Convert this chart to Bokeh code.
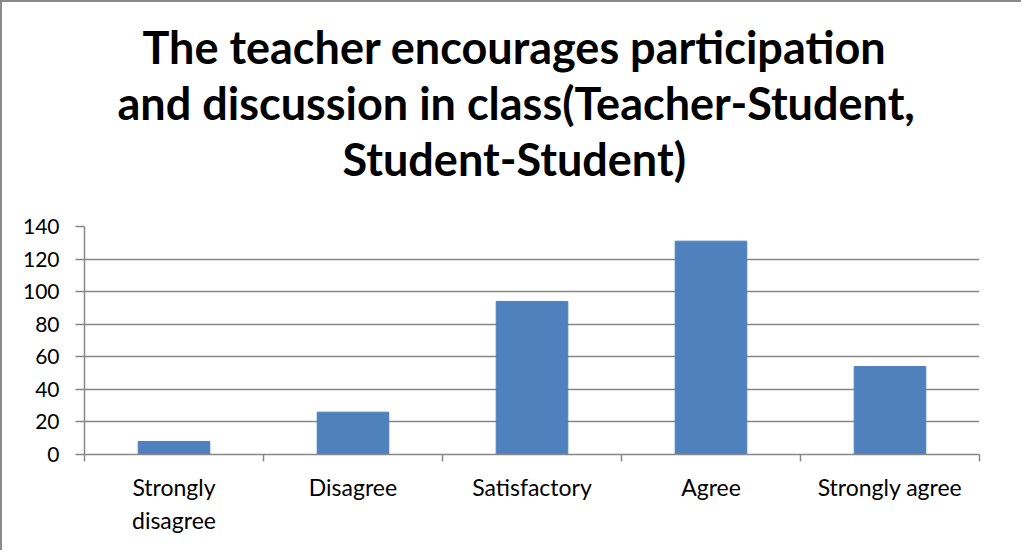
from bokeh.plotting import figure
from bokeh.models import FixedTicker, Range1d, ColumnDataSource, Title
from bokeh.embed import file_html
from bokeh.resources import INLINE
import numpy as np

categories = ["Strongly\ndisagree", "Disagree", "Satisfactory", "Agree", "Strongly agree"]
counts = [8, 26, 94, 131, 54]
y_ticks = [0, 20, 40, 60, 80, 100, 120, 140]
title_lines = ["The teacher encourages participation",
               "and discussion in class(Teacher-Student,",
               "Student-Student)"]

FONT = "Lato"
GRID = "#878787"

n = len(categories)
centers = np.arange(n) + 0.5
src = ColumnDataSource(dict(x=centers, top=counts))

p = figure(width=1021, height=550, output_backend="svg", toolbar_location=None,
           x_range=Range1d(0, n), y_range=Range1d(0, 140),
           min_border_left=82, min_border_right=44, min_border_top=224, min_border_bottom=98)

p.vbar(x="x", top="top", width=0.4, source=src, fill_color="#4F81BD", line_color="#4F81BD")

# spacer between the plot frame and the title block
p.add_layout(Title(text=" ", text_font_size="1px", standoff=38), "above")

# title: one Title per line, innermost (last line) first.
title_offsets = [58, 33, 258]   # px from frame left, per line (layout only)
for line, off in reversed(list(zip(title_lines, title_offsets))):
    t = Title(text=line, align="left", offset=off, text_font=FONT, text_font_style="bold",
              text_font_size="45px", text_color="#000000", standoff=0)
    p.add_layout(t, "above")

p.outline_line_color = None
p.background_fill_color = "white"
p.border_fill_color = "white"

# x axis
xax = p.xaxis[0]
xax.ticker = FixedTicker(ticks=list(centers), minor_ticks=list(range(n + 1)))
xax.major_label_overrides = {float(c): lab for c, lab in zip(centers, categories)}
xax.major_tick_line_color = None
xax.minor_tick_line_color = GRID
xax.minor_tick_in = 0
xax.minor_tick_out = 7
xax.axis_line_color = GRID
xax.axis_line_width = 1.5
xax.minor_tick_line_width = 1.5
xax.major_label_text_font = FONT
xax.major_label_text_font_size = "23px"
xax.major_label_text_color = "#000000"
xax.major_label_standoff = 11
p.xgrid.grid_line_color = None

# y axis
yax = p.yaxis[0]
yax.ticker = FixedTicker(ticks=y_ticks)
yax.minor_tick_line_color = None
yax.major_tick_in = 0
yax.major_tick_out = 9
yax.major_tick_line_color = GRID
yax.major_tick_line_width = 1.5
yax.axis_line_color = GRID
yax.axis_line_width = 1.5
yax.major_label_text_font = FONT
yax.major_label_text_font_size = "21px"
yax.major_label_text_color = "#000000"
yax.major_label_standoff = 16
p.ygrid.grid_line_color = GRID
p.ygrid.grid_line_width = 1.5

p.styles = {"border-left": "2px solid #8a8a8a", "border-top": "2px solid #8a8a8a"}

open("out.html", "w").write(file_html(p, INLINE))
